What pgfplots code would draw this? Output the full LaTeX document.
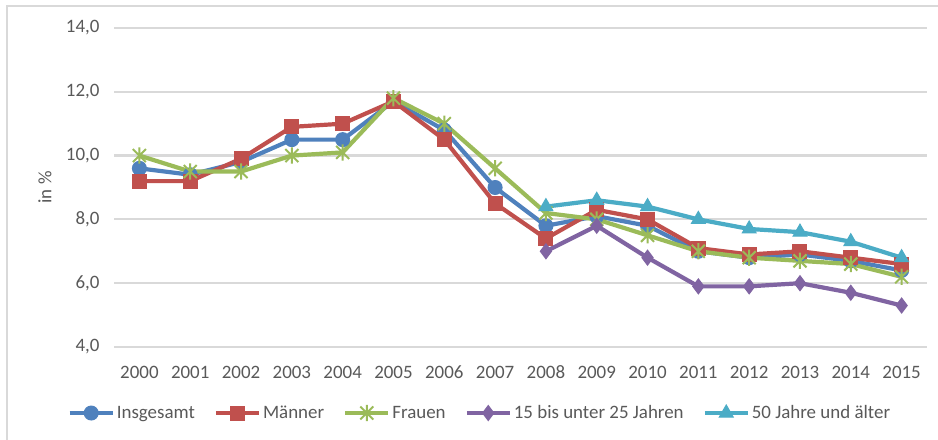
\documentclass[border=0pt]{standalone}
\usepackage{pgfplots}
\pgfplotsset{compat=1.18}
\usepackage{fontspec}
\setmainfont{Carlito}
\definecolor{cBlue}{HTML}{4F81BD}
\definecolor{cRed}{HTML}{C0504D}
\definecolor{cGreen}{HTML}{9BBB59}
\definecolor{cPurple}{HTML}{8064A2}
\definecolor{cAqua}{HTML}{4BACC6}
\definecolor{cGrid}{HTML}{D9D9D9}
\definecolor{cText}{HTML}{595959}
\pgfdeclareplotmark{xstar}{%
  \pgfpathmoveto{\pgfqpoint{-\pgfplotmarksize}{-\pgfplotmarksize}}%
  \pgfpathlineto{\pgfqpoint{\pgfplotmarksize}{\pgfplotmarksize}}%
  \pgfpathmoveto{\pgfqpoint{-\pgfplotmarksize}{\pgfplotmarksize}}%
  \pgfpathlineto{\pgfqpoint{\pgfplotmarksize}{-\pgfplotmarksize}}%
  \pgfpathmoveto{\pgfqpoint{0pt}{-1.25\pgfplotmarksize}}%
  \pgfpathlineto{\pgfqpoint{0pt}{1.25\pgfplotmarksize}}%
  \pgfusepathqstroke}
\begin{document}
\begin{tikzpicture}[x=1bp,y=1bp]
\useasboundingbox (0,0) rectangle (938,440);
\fill[white] (0,0) rectangle (938,440);
\draw[cGrid, line width=2.5bp] (7,0) -- (7,434) -- (938,434);
\begin{axis}[
  at={(114bp,93bp)}, anchor=south west,
  scale only axis, width=813bp, height=319bp,
  xmin=-0.5, xmax=15.5, ymin=4, ymax=14,
  xtick={0,...,15},
  xticklabels={2000,2001,2002,2003,2004,2005,2006,2007,2008,2009,2010,2011,2012,2013,2014,2015},
  ytick={4,6,8,10,12,14},
  yticklabels={{4,0},{6,0},{8,0},{10,0},{12,0},{14,0}},
  axis line style={draw=none},
  major tick length=0pt,
  ymajorgrids, grid style={cGrid, line width=2.2bp},
  tick label style={font=\fontsize{19}{22}\selectfont, text=cText},
  xticklabel style={anchor=center, yshift=-25bp},
  yticklabel style={anchor=east, xshift=-11bp},
  ylabel={in \%},
  ylabel style={font=\fontsize{19}{22}\selectfont, text=cText, at={(axis description cs:0,0.5)}, anchor=center, yshift=69bp},
  clip=false,
  every axis plot/.append style={line width=4.2bp},
  legend columns=5,
  legend style={draw=none, fill=none, at={(0.450,-0.207)}, anchor=center,
    font=\fontsize{19}{22}\selectfont, text=cText,
    /tikz/every even column/.append style={column sep=17bp},
    /tikz/every odd column/.append style={column sep=0bp},
    inner sep=0pt},
  legend cell align=left,
  legend image code/.code={%
    \draw[mark repeat=2,mark phase=2] plot coordinates {(0bp,0bp) (21.5bp,0bp) (43bp,0bp)};},
]
\addplot[cBlue, mark=*, mark size=7bp, mark options={solid, fill=cBlue, line width=1bp}] coordinates {
(0,9.6)(1,9.4)(2,9.8)(3,10.5)(4,10.5)(5,11.7)(6,10.8)(7,9.0)(8,7.8)(9,8.1)(10,7.8)(11,7.0)(12,6.8)(13,6.9)(14,6.7)(15,6.4)};
\addlegendentry{Insgesamt}
\addplot[cRed, mark=square*, mark size=7bp, mark options={solid, fill=cRed, line width=1bp}] coordinates {
(0,9.2)(1,9.2)(2,9.9)(3,10.9)(4,11.0)(5,11.7)(6,10.5)(7,8.5)(8,7.4)(9,8.3)(10,8.0)(11,7.1)(12,6.9)(13,7.0)(14,6.8)(15,6.6)};
\addlegendentry{Männer}
\addplot[cGreen, mark=xstar, mark size=6.5bp, mark options={solid, line width=2bp}] coordinates {
(0,10.0)(1,9.5)(2,9.5)(3,10.0)(4,10.1)(5,11.8)(6,11.0)(7,9.6)(8,8.2)(9,8.0)(10,7.5)(11,7.0)(12,6.8)(13,6.7)(14,6.6)(15,6.2)};
\addlegendentry{Frauen}
\addplot[cPurple, mark=diamond*, mark size=7.5bp, mark options={solid, fill=cPurple, line width=1bp}] coordinates {
(8,7.0)(9,7.8)(10,6.8)(11,5.9)(12,5.9)(13,6.0)(14,5.7)(15,5.3)};
\addlegendentry{15 bis unter 25 Jahren}
\addplot[cAqua, mark=triangle*, mark size=8bp, mark options={solid, fill=cAqua, line width=1bp}] coordinates {
(8,8.4)(9,8.6)(10,8.4)(11,8.0)(12,7.7)(13,7.6)(14,7.3)(15,6.8)};
\addlegendentry{50 Jahre und älter}
\end{axis}
\end{tikzpicture}
\end{document}
